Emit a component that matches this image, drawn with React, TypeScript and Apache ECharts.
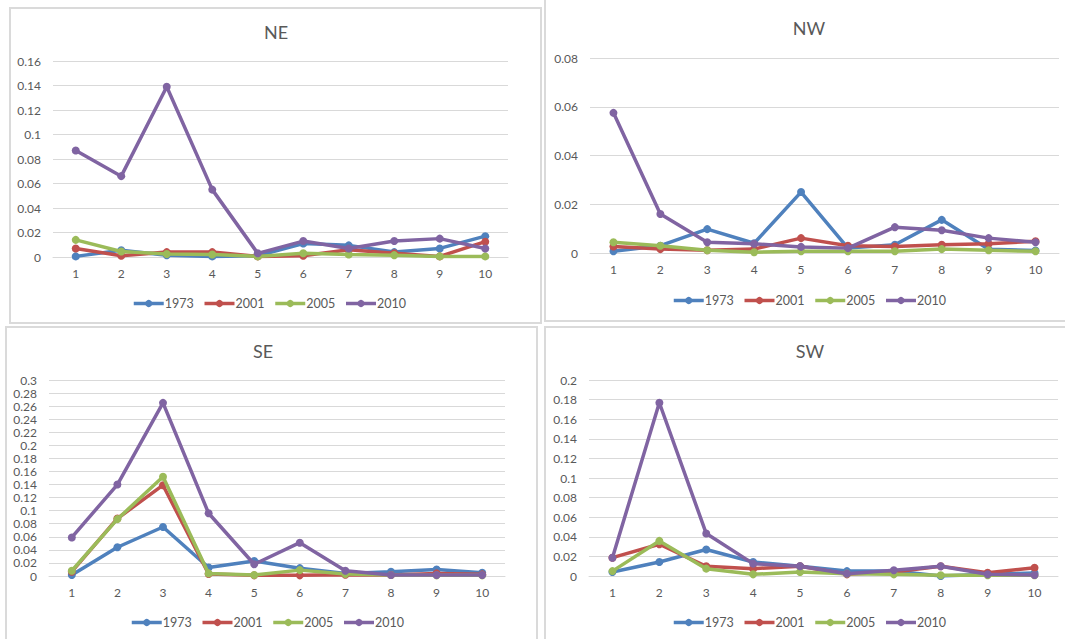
import React, { useEffect, useRef } from "react";
import * as echarts from "echarts";

// Size classes along the x axis
const classes = ["1", "2", "3", "4", "5", "6", "7", "8", "9", "10"];
const years = ["1973", "2001", "2005", "2010"];
const yearColors = ["#4F81BD", "#C0504D", "#9BBB59", "#8064A2"];

// NE quadrant
const ne1973 = [0.0005, 0.0055, 0.0015, 0.0005, 0.001, 0.011, 0.0095, 0.004, 0.007, 0.017];
const ne2001 = [0.007, 0.001, 0.004, 0.004, 0.0005, 0.001, 0.006, 0.003, 0.0005, 0.0125];
const ne2005 = [0.014, 0.0045, 0.0025, 0.002, 0.0005, 0.003, 0.002, 0.0015, 0.0005, 0.0005];
const ne2010 = [0.087, 0.066, 0.139, 0.055, 0.003, 0.013, 0.007, 0.013, 0.015, 0.007];

// NW quadrant
const nw1973 = [0.0007, 0.003, 0.0098, 0.004, 0.025, 0.002, 0.0034, 0.0136, 0.0015, 0.001];
const nw2001 = [0.0027, 0.0016, 0.0011, 0.0016, 0.0061, 0.003, 0.0027, 0.0034, 0.0038, 0.0048];
const nw2005 = [0.0044, 0.003, 0.0011, 0.0003, 0.0007, 0.0007, 0.0007, 0.0016, 0.0011, 0.0007];
const nw2010 = [0.0575, 0.016, 0.0044, 0.0038, 0.0025, 0.002, 0.0106, 0.0093, 0.0061, 0.0044];

// SE quadrant
const se1973 = [0.0015, 0.044, 0.075, 0.013, 0.023, 0.012, 0.004, 0.0066, 0.01, 0.005];
const se2001 = [0.0066, 0.088, 0.139, 0.003, 0.001, 0.001, 0.002, 0.0015, 0.004, 0.0025];
const se2005 = [0.008, 0.087, 0.152, 0.004, 0.0015, 0.009, 0.003, 0.0015, 0.001, 0.001];
const se2010 = [0.059, 0.14, 0.265, 0.096, 0.018, 0.051, 0.008, 0.0015, 0.0015, 0.0015];

// SW quadrant
const sw1973 = [0.004, 0.0143, 0.027, 0.0143, 0.0099, 0.005, 0.005, 0.0, 0.0017, 0.003];
const sw2001 = [0.0187, 0.0324, 0.0099, 0.0075, 0.0099, 0.0017, 0.004, 0.0099, 0.0034, 0.0085];
const sw2005 = [0.005, 0.0358, 0.0075, 0.0017, 0.004, 0.0024, 0.0017, 0.0007, 0.0007, 0.0007];
const sw2010 = [0.0187, 0.1768, 0.0433, 0.0126, 0.0099, 0.0024, 0.0058, 0.0099, 0.0017, 0.001];

const panelTitles = ["NE", "NW", "SE", "SW"];
const panelMax = [0.16, 0.08, 0.3, 0.2];
const panelData = [
  [ne1973, ne2001, ne2005, ne2010],
  [nw1973, nw2001, nw2005, nw2010],
  [se1973, se2001, se2005, se2010],
  [sw1973, sw2001, sw2005, sw2010],
];

// Panel frames and plot areas (page pixels)
const frames = [
  { x: 10, y: 8, w: 531, h: 315 },
  { x: 545, y: -2, w: 525, h: 323 },
  { x: 6, y: 327, w: 531, h: 320 },
  { x: 545, y: 327, w: 525, h: 320 },
];
const plots = [
  { left: 53, top: 61, width: 455, height: 196, titleX: 276, titleY: 32, legendX: 127, legendY: 292 },
  { left: 590, top: 58, width: 469, height: 195, titleX: 809, titleY: 28, legendX: 667, legendY: 289 },
  { left: 49, top: 380, width: 456, height: 196, titleX: 263, titleY: 351, legendX: 125, legendY: 611 },
  { left: 589, top: 380, width: 469, height: 196, titleX: 810, titleY: 351, legendX: 667, legendY: 611 },
];

const FONT = "Lato, 'Open Sans', sans-serif";
const TEXT = "#595959";
const GRID_LINE = "#d9d9d9";

export default function App() {
  const ref = useRef<HTMLDivElement>(null);

  useEffect(() => {
    if (!ref.current) return;
    const chart = echarts.init(ref.current, null, { renderer: "svg" });

    const fmt = (v: number) => String(parseFloat(v.toFixed(2)));

    const grid = plots.map((p) => ({
      left: p.left,
      top: p.top,
      width: p.width,
      height: p.height,
      containLabel: false,
    }));

    const xAxis = plots.map((_, i) => ({
      type: "category",
      gridIndex: i,
      data: classes,
      boundaryGap: true,
      axisLine: { show: true, lineStyle: { color: GRID_LINE, width: 1 } },
      axisTick: { show: false },
      axisLabel: { color: TEXT, fontFamily: FONT, fontSize: 12, margin: 10 },
    }));

    const yAxis = plots.map((_, i) => ({
      type: "value",
      gridIndex: i,
      min: 0,
      max: panelMax[i],
      interval: 0.02,
      axisLine: { show: false },
      axisTick: { show: false },
      splitLine: { lineStyle: { color: GRID_LINE, width: 1 } },
      axisLabel: {
        color: TEXT,
        fontFamily: FONT,
        fontSize: 12,
        margin: 12,
        formatter: fmt,
      },
    }));

    const series: any[] = [];
    panelData.forEach((set, i) => {
      set.forEach((values, k) => {
        series.push({
          type: "line",
          name: years[k],
          xAxisIndex: i,
          yAxisIndex: i,
          data: values,
          symbol: "circle",
          symbolSize: 8,
          showAllSymbol: true,
          lineStyle: { width: 3.5, color: yearColors[k] },
          itemStyle: { color: yearColors[k] },
          z: 2 + k,
        });
      });
    });

    const legend = plots.map((p) => ({
      left: p.legendX,
      top: p.legendY,
      orient: "horizontal",
      data: years,
      itemWidth: 30,
      itemHeight: 9,
      itemGap: 9,
      lineStyle: { width: 3.5 },
      textStyle: { color: TEXT, fontFamily: FONT, fontSize: 12.5, padding: [0, 0, 0, -4] },
      selectedMode: false,
    }));

    const graphic: any[] = [
      ...frames.map((f) => ({
        type: "rect",
        shape: { x: f.x, y: f.y, width: f.w, height: f.h },
        style: { fill: "none", stroke: "#dadada", lineWidth: 2 },
        silent: true,
      })),
      ...plots.map((p, i) => ({
        type: "text",
        x: p.titleX,
        y: p.titleY,
        style: {
          text: panelTitles[i],
          fill: TEXT,
          font: `18px ${FONT}`,
          textAlign: "center",
          textVerticalAlign: "middle",
        },
        silent: true,
      })),
    ];

    chart.setOption({
      animation: false,
      backgroundColor: "#ffffff",
      color: yearColors,
      grid,
      xAxis,
      yAxis,
      series,
      legend,
      graphic,
    });

    return () => chart.dispose();
  }, []);

  return (
    <div
      ref={ref}
      style={{ position: "fixed", left: 0, top: 0, width: 1065, height: 639 }}
    />
  );
}
